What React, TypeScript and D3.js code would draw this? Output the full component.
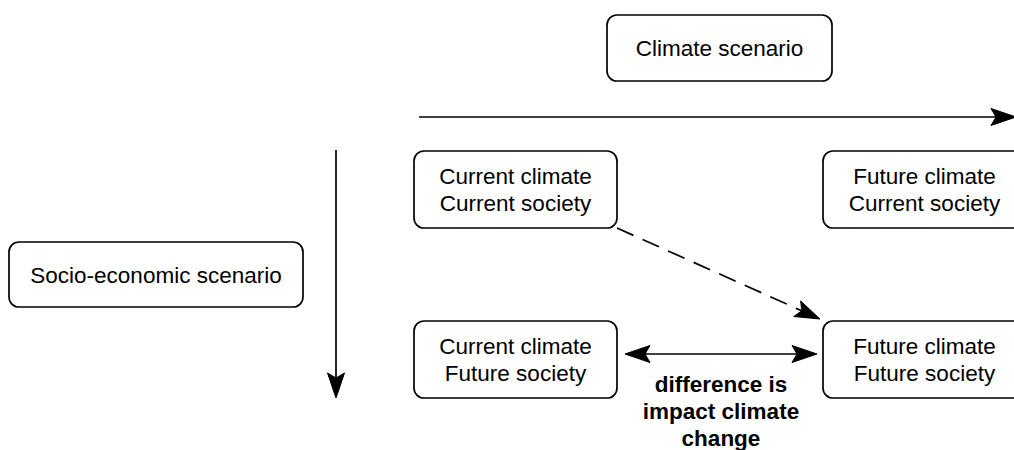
import React from "react";
import * as d3 from "d3";

// ---- data ----
const climateScenarios = ["Current climate", "Future climate"];
const societyScenarios = ["Current society", "Future society"];
const scenarioAxes = ["Climate scenario", "Socio-economic scenario"];
const impactLabel = ["difference is", "impact climate", "change"];

const W = 1014;
const H = 450;
const FONT = "'Liberation Sans', Arial, Helvetica, sans-serif";
const FS = 22.5;

const x = d3.scalePoint<string>().domain(climateScenarios).range([515.5, 924.5]);
const y = d3.scalePoint<string>().domain(societyScenarios).range([189.5, 359.5]);

const BOX_W = 203;
const BOX_H = 77;

function arrowHead(tx: number, ty: number, angle: number, len = 25, half = 8.5, notch = 5) {
  const c = Math.cos(angle), s = Math.sin(angle);
  const pt = (a: number, b: number) => [tx - a * c - b * -s, ty - a * s - b * c];
  const p1 = pt(len, half);
  const p2 = pt(len - notch, 0);
  const p3 = pt(len, -half);
  return `M${tx},${ty}L${p1[0]},${p1[1]}L${p2[0]},${p2[1]}L${p3[0]},${p3[1]}Z`;
}

function Arrow({ x1, y1, x2, y2, dashed = false, both = false }: any) {
  const ang = Math.atan2(y2 - y1, x2 - x1);
  const inset = 18;
  const sx = both ? x1 + Math.cos(ang) * inset : x1;
  const sy = both ? y1 + Math.sin(ang) * inset : y1;
  const ex = x2 - Math.cos(ang) * inset;
  const ey = y2 - Math.sin(ang) * inset;
  return (
    <g>
      <line x1={sx} y1={sy} x2={ex} y2={ey} stroke="#000" strokeWidth={1.7}
        strokeDasharray={dashed ? "18 10" : undefined} />
      <path d={arrowHead(x2, y2, ang)} fill="#000" stroke="#000" strokeWidth={1} />
      {both && <path d={arrowHead(x1, y1, ang + Math.PI)} fill="#000" stroke="#000" strokeWidth={1} />}
    </g>
  );
}

function Box({ cx, cy, w, h, lines, bold = false }: any) {
  const lh = 27;
  const n = lines.length;
  return (
    <g>
      {w > 0 && (
        <rect x={cx - w / 2} y={cy - h / 2} width={w} height={h} rx={10} ry={10}
          fill="#fff" stroke="#000" strokeWidth={1.7} />
      )}
      {lines.map((t: string, i: number) => (
        <text key={i} x={cx} y={cy + (i - (n - 1) / 2) * lh} dy="0.36em" textAnchor="middle"
          fontFamily={FONT} fontSize={FS} fontWeight={bold ? "bold" : "normal"} fill="#000">
          {t}
        </text>
      ))}
    </g>
  );
}

export default function App() {
  const topRow = y(societyScenarios[0])!;
  const botRow = y(societyScenarios[1])!;
  const leftCol = x(climateScenarios[0])!;
  const rightCol = x(climateScenarios[1])!;
  return (
    <svg width={W} height={H} style={{ position: "absolute", left: 0, top: 0, background: "#fff" }}>
      <rect width={W} height={H} fill="#fff" />
      {/* axis boxes */}
      <Box cx={719.5} cy={48} w={225} h={66} lines={[scenarioAxes[0]]} />
      <Box cx={156} cy={274.5} w={294} h={65} lines={[scenarioAxes[1]]} />
      {/* axis arrows */}
      <Arrow x1={419} y1={117} x2={1016} y2={117} />
      <Arrow x1={336} y1={150} x2={336} y2={398} />
      {/* scenario grid */}
      {societyScenarios.map((soc) =>
        climateScenarios.map((cl) => (
          <Box key={cl + soc} cx={x(cl)} cy={y(soc)} w={BOX_W} h={BOX_H} lines={[cl, soc]} />
        ))
      )}
      {/* dashed arrow */}
      <Arrow x1={leftCol + BOX_W / 2} y1={topRow + BOX_H / 2} x2={rightCol - BOX_W / 2 - 3} y2={botRow - BOX_H / 2 - 2} dashed />
      {/* double arrow */}
      <Arrow x1={leftCol + BOX_W / 2 + 8} y1={botRow - 5.5} x2={rightCol - BOX_W / 2 - 6} y2={botRow - 5.5} both />
      <Box cx={(leftCol + rightCol) / 2 + 1} cy={411} w={0} h={0} lines={impactLabel} bold />
    </svg>
  );
}
